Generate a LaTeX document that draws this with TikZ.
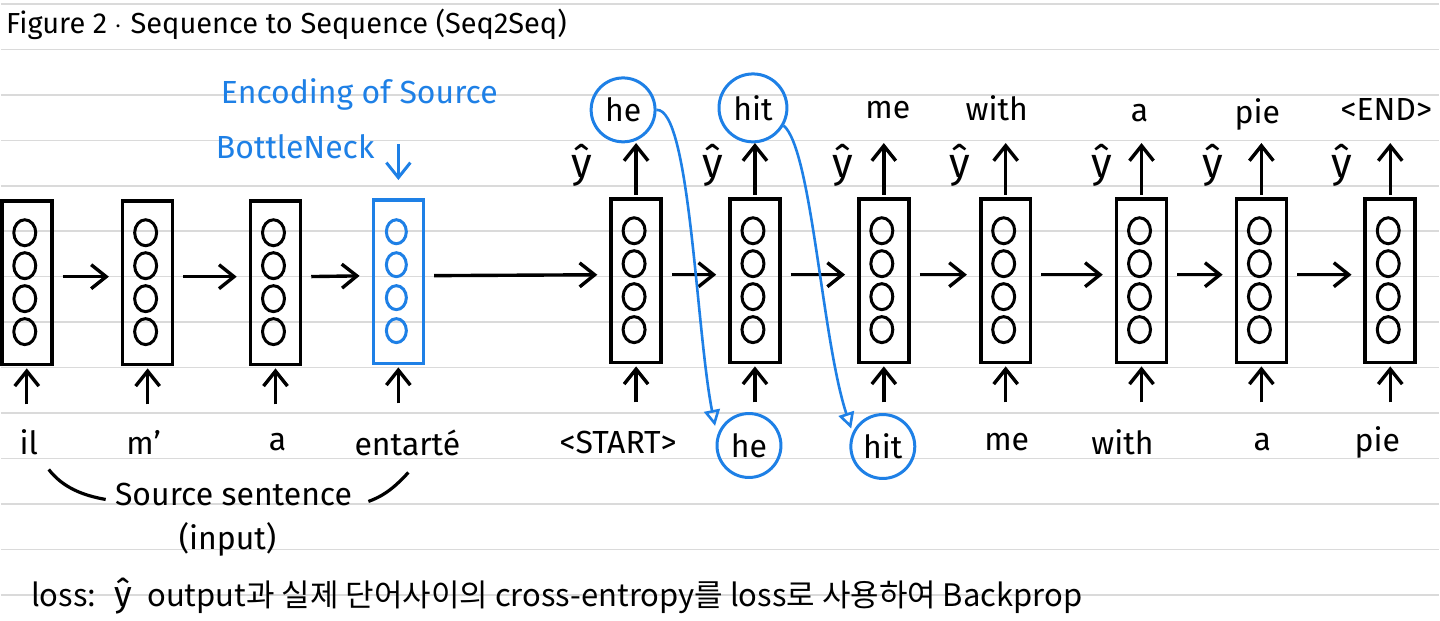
\documentclass[tikz,border=0pt]{standalone}
\usepackage{fontspec}
\setmainfont{Fira Sans}
\newfontfamily\kofont{Noto Sans CJK KR}
\usetikzlibrary{arrows.meta,calc}
\definecolor{notesblue}{RGB}{30,128,230}
\definecolor{paperline}{RGB}{218,218,218}
\begin{document}
\begin{tikzpicture}
[x=0.5pt,y=-0.5pt,
every node/.style={inner sep=0pt,font=\fontsize{16}{18}\selectfont},
cell/.style={draw,line width=1.8pt,minimum width=25pt,minimum height=82pt},
flow/.style={line width=1.7pt,-{Straight Barb[length=7.5pt,width=12pt]},shorten <=4.5pt,shorten >=6pt},
ink/.style={line width=1.3pt,notesblue},
ring/.style={draw=notesblue,line width=1.5pt,circle,minimum size=32pt},
yhat/.style={font=\fontsize{21}{23}\selectfont},
]
\fill[white] (0,0) rectangle (1440,621);
\foreach \y in {4,49.5,...,600} \draw[paperline,line width=0.8pt] (0,\y) -- (1440,\y);
\node[anchor=west,font=\fontsize{14.5}{17}\selectfont] (title) at (5,24) {Figure 2 $\cdot$ Sequence to Sequence (Seq2Seq)};
\foreach \n/\x in {e1/26,e2/147,e3/275} \node[cell] (\n) at (\x,283) {};
\node[cell,draw=notesblue] (e4) at (398,282) {};
\foreach \n/\x in {d1/636,d2/755,d3/884,d4/1006,d5/1142,d6/1262,d7/1391} \node[cell] (\n) at (\x,281) {};
\foreach \n in {e1,e2,e3,d1,d2,d3,d4,d5,d6,d7}
  \foreach \dy in {-50,-17,16,49} \draw[line width=1.5pt] ($(\n)+(-2,\dy)$) ellipse [x radius=11,y radius=13];
\foreach \dy in {-50,-17,16,49} \draw[line width=1.5pt,notesblue] ($(e4)+(-2,\dy)$) ellipse [x radius=10,y radius=12];
\foreach \a/\b in {e1/e2,e2/e3,e3/e4,e4/d1,d1/d2,d2/d3,d3/d4,d4/d5,d5/d6,d6/d7}
  \draw[flow] ([yshift=3pt]\a.east) -- ([yshift=3pt]\b.west);
\foreach \n/\x/\w in {e1/28/il,e2/143/m',e3/277/a,e4/407/entarté,d1/618/<START>,d4/1007/me,d5/1123/with,d6/1263/a,d7/1378/pie}
  \node (w\n) at (\x,443) {\w};
\node[ring] (wd2) at (749,446) {he};
\node[ring] (wd3) at (883,447) {hit};
\foreach \n in {e1,e2,e3,e4,d1,d2,d3,d4,d5,d6,d7}
  \draw[flow,shorten <=0pt,shorten >=1pt] ([yshift=-19pt]\n.south) -- (\n.south);
\node[ring] (t1) at (623,110) {he};
\node[ring,minimum size=34pt] (t2) at (753,108) {hit};
\node (t3) at (888,110) {me};
\node (t4) at (997,108) {with};
\node (t5) at (1140,113) {a};
\node (t6) at (1258,115) {pie};
\node (t7) at (1387,110) {<END>};
\foreach \n/\x in {d1/582,d2/713,d3/843,d4/960,d5/1102,d6/1213,d7/1343}{
  \draw[flow,shorten <=1pt,shorten >=0pt] (\n.north) -- ([yshift=27pt]\n.north);
  \node[yhat] (h\n) at (\x,166) {ŷ};}
\node[notesblue,anchor=west] (enc) at (220,95) {Encoding of Source};
\node[notesblue,anchor=west] (neck) at (215,147) {BottleNeck};
\draw[flow,notesblue,line width=1.5pt,shorten <=0pt,shorten >=9pt] ([yshift=27pt]e4.north) -- (e4.north);
\draw[ink,-{Triangle[open,length=8pt,width=8pt]},shorten >=5pt] (t1.east) .. controls (690,108) and (696,330) .. (wd2.163);
\draw[ink,-{Triangle[open,length=8pt,width=8pt]},shorten >=2pt] (t2.-30) .. controls (812,150) and (822,340) .. (wd3.155);
\node (src) at (233,495) {Source sentence};
\node (inp) at (227,540) {(input)};
\draw[line width=1.6pt] (48,470) .. controls (62,488) and (82,496) .. (105,500);
\draw[line width=1.6pt] (408,473) .. controls (396,486) and (385,496) .. (368,502);
\node[anchor=west,font=\kofont\fontsize{15.5}{18}\selectfont] (loss) at (30,597) {loss:\; {\rmfamily\fontsize{18}{18}\selectfont ŷ}\; output과 실제 단어사이의 cross-entropy를 loss로 사용하여 Backprop};
\end{tikzpicture}
\end{document}
